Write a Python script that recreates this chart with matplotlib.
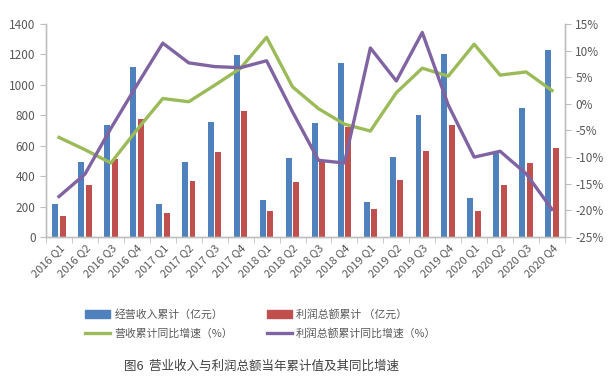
import numpy as np
import matplotlib
matplotlib.use('Agg')
import matplotlib.pyplot as plt
from matplotlib.patches import Patch
from matplotlib.lines import Line2D

plt.rcParams['font.family'] = ['Noto Sans CJK SC', 'DejaVu Sans']

quarters = ['2016 Q1', '2016 Q2', '2016 Q3', '2016 Q4',
            '2017 Q1', '2017 Q2', '2017 Q3', '2017 Q4',
            '2018 Q1', '2018 Q2', '2018 Q3', '2018 Q4',
            '2019 Q1', '2019 Q2', '2019 Q3', '2019 Q4',
            '2020 Q1', '2020 Q2', '2020 Q3', '2020 Q4']

# 经营收入累计 (亿元)
revenue = [215, 496, 733, 1117, 215, 496, 757, 1196, 246, 516, 750, 1145,
           230, 527, 799, 1205, 255, 560, 847, 1229]
# 利润总额累计 (亿元)
profit = [140, 345, 510, 775, 158, 366, 557, 829, 169, 362, 490, 724,
          187, 377, 562, 733, 171, 345, 489, 588]
# 营收累计同比增速 (%)
revenue_growth = [-6.3, -8.6, -11.1, -4.9, 1.0, 0.4, 3.5, 6.7, 12.5, 3.2,
                  -0.9, -3.8, -5.1, 2.1, 6.7, 5.2, 11.2, 5.4, 6.0, 2.5]
# 利润总额累计同比增速 (%)
profit_growth = [-17.4, -13.2, -4.6, 3.5, 11.4, 7.7, 7.0, 6.8, 8.1, -1.5,
                 -10.6, -11.1, 10.5, 4.3, 13.4, -0.2, -10.0, -8.9, -13.1, -19.8]

left_ticks = list(range(0, 1401, 200))
right_ticks = list(range(-25, 16, 5))

c_blue = '#4F81BD'
c_red = '#C0504D'
c_green = '#9BBB59'
c_purple = '#8064A2'
c_axis = '#BFBFBF'
c_text = '#595959'

fig = plt.figure(figsize=(6.11, 3.85), dpi=100)
ax = fig.add_axes([0.0753, 0.3844, 0.8494, 0.5533])
ax2 = ax.twinx()

x = np.arange(len(quarters))
ax.bar(x - 0.145, revenue, width=0.23, color=c_blue, zorder=2)
ax.bar(x + 0.145, profit, width=0.23, color=c_red, zorder=2)

ax2.plot(x, revenue_growth, color=c_green, lw=2.4, solid_joinstyle='round')
ax2.plot(x, profit_growth, color=c_purple, lw=2.4, solid_joinstyle='round')

ax.set_xlim(-0.5, len(quarters) - 0.5)
ax.set_ylim(0, 1400)
ax2.set_ylim(-25, 15)

ax.set_yticks(left_ticks)
ax.set_yticklabels([str(v) for v in left_ticks])
ax2.set_yticks(right_ticks)
ax2.set_yticklabels(['%d%%' % v for v in right_ticks])

ax.set_xticks(x)
ax.set_xticklabels(quarters, rotation=45, ha='right', rotation_mode='anchor')
ax.set_xticks(np.arange(-0.5, len(quarters), 1), minor=True)
ax.tick_params(axis='x', which='major', length=0, pad=4, labelsize=8, labelcolor=c_text)
ax.tick_params(axis='x', which='minor', length=4, color=c_axis, direction='out')
ax.tick_params(axis='y', length=4, color=c_axis, labelsize=8.5, labelcolor=c_text)
ax2.tick_params(axis='y', length=4, color=c_axis, labelsize=8.5, labelcolor=c_text)

for a in (ax, ax2):
    for name, sp in a.spines.items():
        if name == 'top':
            sp.set_visible(False)
        else:
            sp.set_color(c_axis)
            sp.set_linewidth(1.0)

handles = [Patch(color=c_blue), Line2D([], [], color=c_green, lw=2.4),
           Patch(color=c_red), Line2D([], [], color=c_purple, lw=2.4)]
labels = ['经营收入累计（亿元）', '营收累计同比增速（%）',
          '利润总额累计 （亿元）', '利润总额累计同比增速（%）']
fig.legend(handles, labels, ncol=2, loc='center', bbox_to_anchor=(261 / 611, 1 - 324 / 385),
           frameon=False, fontsize=7.8, handlelength=2.3, handleheight=0.85,
           handletextpad=0.4, columnspacing=3.1, labelspacing=0.8,
           labelcolor=c_text)

fig.text(261 / 611, 1 - 366 / 385, '图6  营业收入与利润总额当年累计值及其同比增速',
         ha='center', va='center', fontsize=9, color='#404040')

fig.savefig('out.png', dpi=100)
